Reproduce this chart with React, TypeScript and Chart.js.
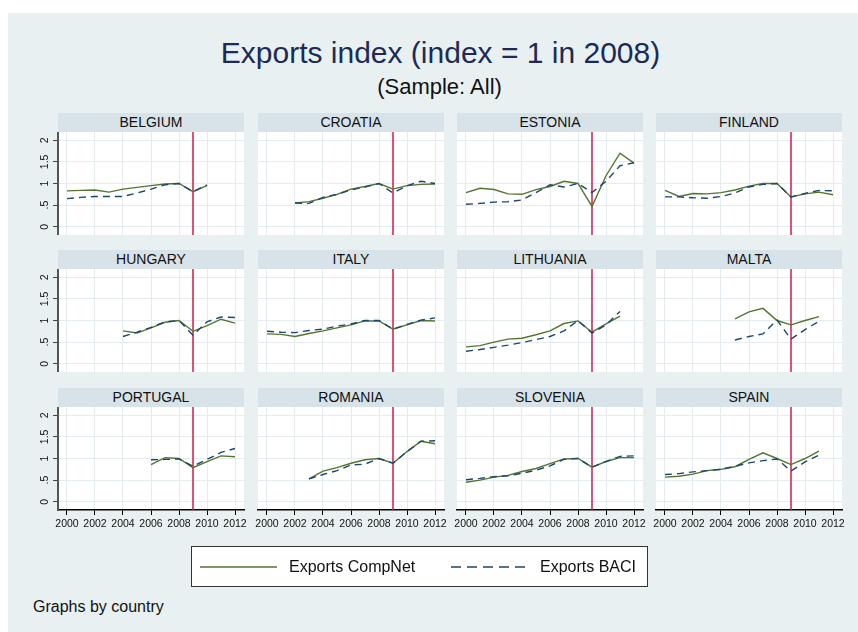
import React, { useEffect, useRef } from "react";
import { Chart, registerables } from "chart.js";

Chart.register(...registerables);

// ---------- data ----------
const years = [2000, 2001, 2002, 2003, 2004, 2005, 2006, 2007, 2008, 2009, 2010, 2011, 2012];
const xTickValues = [2000, 2002, 2004, 2006, 2008, 2010, 2012];
const yTickValues = [0, 0.5, 1, 1.5, 2];
const yTickLabels = ["0", ".5", "1", "1.5", "2"];
const crisisYear = 2009;
const seriesNames = ["Exports CompNet", "Exports BACI"];

const countries = [
  "BELGIUM", "CROATIA", "ESTONIA", "FINLAND",
  "HUNGARY", "ITALY", "LITHUANIA", "MALTA",
  "PORTUGAL", "ROMANIA", "SLOVENIA", "SPAIN",
];

const compnetBelgium = [0.83, 0.84, 0.85, 0.8, 0.87, 0.91, 0.95, 0.99, 1.0, 0.81, 0.95, null, null];
const baciBelgium = [0.65, 0.68, 0.7, 0.7, 0.7, 0.78, 0.87, 0.97, 1.0, 0.81, 0.97, null, null];
const compnetCroatia = [null, null, 0.55, 0.58, 0.66, 0.75, 0.87, 0.93, 1.0, 0.87, 0.95, 0.98, 0.99];
const baciCroatia = [null, null, 0.55, 0.54, 0.68, 0.75, 0.85, 0.92, 1.0, 0.78, 0.95, 1.05, 1.0];
const compnetEstonia = [0.79, 0.89, 0.86, 0.76, 0.75, 0.86, 0.93, 1.05, 1.0, 0.47, 1.18, 1.7, 1.47];
const baciEstonia = [0.52, 0.54, 0.57, 0.58, 0.62, 0.79, 0.97, 0.92, 1.0, 0.79, 1.05, 1.41, 1.48];
const compnetFinland = [0.84, 0.7, 0.77, 0.76, 0.79, 0.85, 0.94, 1.0, 1.0, 0.69, 0.76, 0.8, 0.74];
const baciFinland = [0.69, 0.69, 0.67, 0.66, 0.7, 0.78, 0.92, 0.98, 1.0, 0.69, 0.77, 0.84, 0.83];
const compnetHungary = [null, null, null, null, 0.76, 0.71, 0.83, 0.96, 1.0, 0.75, 0.88, 1.03, 0.94];
const baciHungary = [null, null, null, null, 0.63, 0.73, 0.84, 0.97, 1.0, 0.66, 0.97, 1.08, 1.07];
const compnetItaly = [0.69, 0.68, 0.63, 0.7, 0.76, 0.83, 0.9, 0.99, 0.99, 0.8, 0.9, 1.0, 0.99];
const baciItaly = [0.75, 0.73, 0.72, 0.77, 0.8, 0.87, 0.92, 1.0, 1.0, 0.8, 0.91, 1.01, 1.06];
const compnetLithuania = [0.39, 0.42, 0.5, 0.57, 0.59, 0.67, 0.76, 0.93, 0.99, 0.73, 0.92, 1.1, null];
const baciLithuania = [0.29, 0.33, 0.38, 0.43, 0.49, 0.56, 0.63, 0.76, 1.0, 0.71, 0.9, 1.21, null];
const compnetMalta = [null, null, null, null, null, 1.04, 1.2, 1.28, 1.0, 0.9, 1.0, 1.09, null];
const baciMalta = [null, null, null, null, null, 0.55, 0.63, 0.69, 1.01, 0.57, 0.79, 0.98, null];
const compnetPortugal = [null, null, null, null, null, null, 0.86, 1.02, 1.0, 0.79, 0.93, 1.06, 1.04];
const baciPortugal = [null, null, null, null, null, null, 0.97, 0.98, 0.99, 0.82, 0.98, 1.14, 1.23];
const compnetRomania = [null, null, null, 0.53, 0.71, 0.79, 0.89, 0.97, 1.0, 0.89, 1.16, 1.4, 1.34];
const baciRomania = [null, null, null, 0.53, 0.63, 0.72, 0.85, 0.87, 1.0, 0.89, 1.16, 1.4, 1.41];
const compnetSlovenia = [0.45, 0.5, 0.57, 0.61, 0.7, 0.77, 0.88, 0.99, 1.0, 0.8, 0.93, 1.02, 1.02];
const baciSlovenia = [0.51, 0.54, 0.58, 0.6, 0.66, 0.73, 0.83, 0.98, 1.0, 0.8, 0.93, 1.05, 1.06];
const compnetSpain = [0.57, 0.59, 0.64, 0.72, 0.75, 0.81, 0.98, 1.13, 1.0, 0.86, 1.0, 1.17, null];
const baciSpain = [0.63, 0.65, 0.69, 0.72, 0.75, 0.82, 0.9, 0.95, 0.99, 0.71, 0.92, 1.08, null];

const compnetSeries = [
  compnetBelgium, compnetCroatia, compnetEstonia, compnetFinland,
  compnetHungary, compnetItaly, compnetLithuania, compnetMalta,
  compnetPortugal, compnetRomania, compnetSlovenia, compnetSpain,
];
const baciSeries = [
  baciBelgium, baciCroatia, baciEstonia, baciFinland,
  baciHungary, baciItaly, baciLithuania, baciMalta,
  baciPortugal, baciRomania, baciSlovenia, baciSpain,
];

// ---------- styling / layout ----------
const FONT = '"Liberation Sans", Arial, Helvetica, sans-serif';
const GREEN = "#55752f";
const BLUE = "#1a476f";
const RED = "#d4184a";
const GRID = "#e4ecef";
const BG = "#e9f0f2";
const STRIP = "#d7e3e9";

const PLOT_LEFTS = [58, 258, 457, 656];
const PLOT_TOPS = [132, 269, 407];
const PLOT_W = 186;
const PLOT_H = 103;
const STRIP_H = 19;
const X_MIN = 2000 - 9 / 14;
const X_MAX = 2000 + (PLOT_W - 9) / 14;
const Y_MIN = -0.19;
const Y_MAX = 2.19;

const panelPlugin = {
  id: "panelDecor",
  beforeDraw(chart: any) {
    const { ctx, chartArea } = chart;
    ctx.save();
    ctx.fillStyle = "#ffffff";
    ctx.fillRect(chartArea.left, chartArea.top, chartArea.right - chartArea.left, chartArea.bottom - chartArea.top);
    ctx.restore();
  },
  beforeDatasetsDraw(chart: any) {
    const { ctx, chartArea } = chart;
    const x = chart.scales.x.getPixelForValue(crisisYear);
    ctx.save();
    ctx.strokeStyle = RED;
    ctx.lineWidth = 1.5;
    ctx.beginPath();
    ctx.moveTo(x, chartArea.top);
    ctx.lineTo(x, chartArea.bottom);
    ctx.stroke();
    ctx.restore();
  },
  afterDraw(chart: any, _args: any, opts: any) {
    if (!opts || !opts.yLabels) return;
    const { ctx, chartArea } = chart;
    const ys = chart.scales.y;
    ctx.save();
    ctx.fillStyle = "#111";
    ctx.font = `10.5px ${FONT}`;
    ctx.textAlign = "center";
    ctx.textBaseline = "middle";
    yTickValues.forEach((v, i) => {
      const y = ys.getPixelForValue(v);
      ctx.save();
      ctx.translate(chartArea.left - 13, y);
      ctx.rotate(-Math.PI / 2);
      ctx.fillText(yTickLabels[i], 0, 0);
      ctx.restore();
    });
    ctx.restore();
  },
};

type PanelProps = {
  name: string;
  compnet: (number | null)[];
  baci: (number | null)[];
  row: number;
  col: number;
};

function Panel({ name, compnet, baci, row, col }: PanelProps) {
  const ref = useRef<HTMLCanvasElement>(null);
  const isLeft = col === 0;
  const isBottom = row === 2;
  const plotLeft = PLOT_LEFTS[col];
  const plotTop = PLOT_TOPS[row];
  const yw = isLeft ? 50 : 8;
  const xh = isBottom ? 26 : 0;
  const padRight = 8;
  const cw = PLOT_W + yw + padRight;
  const ch = PLOT_H + xh;

  useEffect(() => {
    const toPts = (arr: (number | null)[]) =>
      years.map((x, i) => ({ x, y: arr[i] })).filter((p) => p.y !== null);
    const chart = new Chart(ref.current as HTMLCanvasElement, {
      type: "line",
      data: {
        datasets: [
          {
            label: seriesNames[1],
            data: toPts(baci) as any,
            borderColor: BLUE,
            borderWidth: 1.4,
            borderDash: [7, 5],
            pointRadius: 0,
            tension: 0,
            fill: false,
            order: 0,
          },
          {
            label: seriesNames[0],
            data: toPts(compnet) as any,
            borderColor: GREEN,
            borderWidth: 1.4,
            pointRadius: 0,
            tension: 0,
            fill: false,
            order: 1,
          },
        ],
      },
      options: {
        animation: false,
        responsive: false,
        maintainAspectRatio: false,
        events: [],
        layout: { padding: { left: 0, right: padRight, top: 0, bottom: 0 } },
        plugins: {
          legend: { display: false },
          tooltip: { enabled: false },
          panelDecor: { yLabels: isLeft },
        } as any,
        scales: {
          x: {
            type: "linear",
            min: X_MIN,
            max: X_MAX,
            afterBuildTicks: (s: any) => {
              s.ticks = xTickValues.map((v) => ({ value: v }));
            },
            afterFit: (s: any) => {
              s.height = xh;
            },
            grid: { color: GRID, lineWidth: 1, drawTicks: isBottom, tickLength: 5, tickColor: "#000", tickWidth: 1 },
            border: { display: isBottom, color: "#000", width: 1.5 },
            ticks: {
              display: isBottom,
              color: "#111",
              font: { family: FONT, size: 10.5 },
              maxRotation: 0,
              minRotation: 0,
              autoSkip: false,
              padding: 3,
              callback: (v: any) => String(v),
            },
          },
          y: {
            type: "linear",
            min: Y_MIN,
            max: Y_MAX,
            afterBuildTicks: (s: any) => {
              s.ticks = yTickValues.map((v) => ({ value: v }));
            },
            afterFit: (s: any) => {
              s.width = yw;
            },
            grid: { color: GRID, lineWidth: 1, drawTicks: isLeft, tickLength: 5, tickColor: "#444", tickWidth: 1 },
            border: { display: isLeft, color: "#555", width: 2 },
            ticks: { display: false },
          },
        },
      } as any,
      plugins: [panelPlugin],
    });
    return () => chart.destroy();
  }, []);

  return (
    <>
      <div
        style={{
          position: "absolute",
          left: plotLeft,
          top: plotTop - STRIP_H,
          width: PLOT_W,
          height: STRIP_H,
          background: STRIP,
          color: "#111",
          fontFamily: FONT,
          fontSize: 14,
          lineHeight: `${STRIP_H}px`,
          textAlign: "center",
        }}
      >
        {name}
      </div>
      <canvas
        ref={ref}
        width={cw}
        height={ch}
        style={{ position: "absolute", left: plotLeft - yw, top: plotTop, width: cw, height: ch }}
      />
    </>
  );
}

const legendText = {
  position: "absolute" as const,
  top: 0,
  lineHeight: "39px",
  fontFamily: FONT,
  fontSize: 16,
  color: "#111",
  whiteSpace: "nowrap" as const,
};

export default function App() {
  return (
    <div style={{ position: "absolute", left: 0, top: 0, width: 858, height: 632, overflow: "hidden", fontFamily: FONT }}>
      <div style={{ position: "absolute", left: 8, top: 13, width: 850, height: 619, background: BG }} />
      <div
        style={{
          position: "absolute",
          left: 0,
          width: 881,
          top: 38,
          textAlign: "center",
          fontFamily: FONT,
          fontSize: 30,
          lineHeight: "30px",
          color: "#1c2b55",
          whiteSpace: "nowrap",
        }}
      >
        Exports index (index = 1 in 2008)
      </div>
      <div
        style={{
          position: "absolute",
          left: 0,
          width: 879,
          top: 76,
          textAlign: "center",
          fontFamily: FONT,
          fontSize: 22,
          lineHeight: "22px",
          color: "#111",
          whiteSpace: "nowrap",
        }}
      >
        (Sample: All)
      </div>
      {countries.map((c, i) => (
        <Panel key={c} name={c} compnet={compnetSeries[i]} baci={baciSeries[i]} row={Math.floor(i / 4)} col={i % 4} />
      ))}
      <div
        style={{
          position: "absolute",
          left: 191,
          top: 546,
          width: 455,
          height: 39,
          background: "#fff",
          border: "1px solid #333",
        }}
      >
        <svg width={455} height={39} style={{ position: "absolute", left: 0, top: 0 }}>
          <line x1={8} x2={85} y1={20} y2={20} stroke={GREEN} strokeWidth={1.5} />
          <line x1={259} x2={336} y1={20} y2={20} stroke={BLUE} strokeWidth={1.5} strokeDasharray="10 6" />
        </svg>
        <div style={{ ...legendText, left: 97 }}>{seriesNames[0]}</div>
        <div style={{ ...legendText, left: 348 }}>{seriesNames[1]}</div>
      </div>
      <div
        style={{
          position: "absolute",
          left: 33,
          top: 597,
          fontFamily: FONT,
          fontSize: 16,
          lineHeight: "20px",
          color: "#111",
          whiteSpace: "nowrap",
        }}
      >
        Graphs by country
      </div>
    </div>
  );
}
